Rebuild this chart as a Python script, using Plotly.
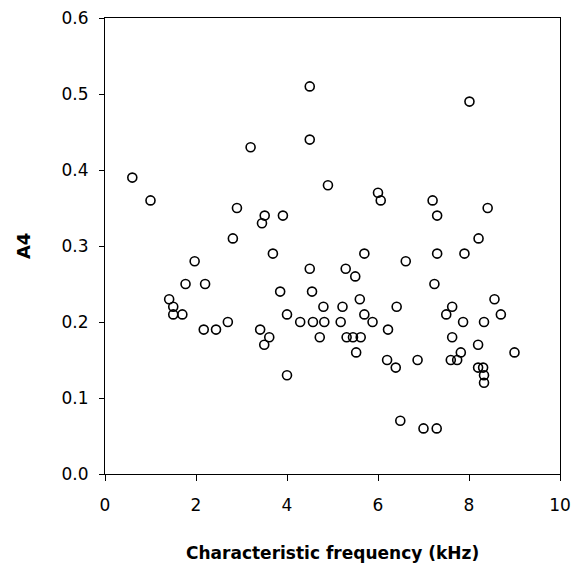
import plotly.graph_objects as go

# characteristic frequency (kHz) and A4 values
cf_khz = [0.60, 1.00, 4.50, 4.50, 3.20, 4.90, 2.90, 3.51, 3.45, 3.91, 2.81, 3.69,
          8.01, 6.00, 6.06, 7.20, 7.30, 8.41, 8.21,
          1.97, 1.77, 2.20, 1.41, 1.50, 1.50, 1.70, 2.17, 2.44, 2.70, 3.41, 3.61,
          3.50, 3.85, 4.00, 4.00, 4.50, 4.55, 4.29, 4.57, 4.82, 4.80, 4.72,
          5.22, 5.18, 5.70, 7.30, 7.90, 6.61, 5.29, 5.50, 7.24, 5.60, 5.70, 5.88,
          6.41, 6.22, 5.31, 5.45, 5.62, 5.52, 6.20, 6.39, 6.87, 6.49, 7.00, 7.29,
          7.63, 7.50, 7.87, 7.63, 7.82, 7.60, 7.74, 8.56, 8.70, 8.33, 8.20, 8.20,
          8.31, 8.33, 8.33, 9.00]
a4 = [0.39, 0.36, 0.51, 0.44, 0.43, 0.38, 0.35, 0.34, 0.33, 0.34, 0.31, 0.29,
      0.49, 0.37, 0.36, 0.36, 0.34, 0.35, 0.31,
      0.28, 0.25, 0.25, 0.23, 0.22, 0.21, 0.21, 0.19, 0.19, 0.20, 0.19, 0.18,
      0.17, 0.24, 0.21, 0.13, 0.27, 0.24, 0.20, 0.20, 0.20, 0.22, 0.18,
      0.22, 0.20, 0.29, 0.29, 0.29, 0.28, 0.27, 0.26, 0.25, 0.23, 0.21, 0.20,
      0.22, 0.19, 0.18, 0.18, 0.18, 0.16, 0.15, 0.14, 0.15, 0.07, 0.06, 0.06,
      0.22, 0.21, 0.20, 0.18, 0.16, 0.15, 0.15, 0.23, 0.21, 0.20, 0.17, 0.14,
      0.14, 0.13, 0.12, 0.16]

x_ticks = [0, 2, 4, 6, 8, 10]
y_ticks = [0.0, 0.1, 0.2, 0.3, 0.4, 0.5, 0.6]

fig = go.Figure()
fig.add_trace(go.Scatter(
    x=cf_khz, y=a4, mode='markers',
    marker=dict(symbol='circle-open', size=9, color='black', line=dict(width=1.6))
))

font_family = "DejaVu Sans, Liberation Sans, Arial, sans-serif"
axis_font = dict(family=font_family, size=17, color='black')

fig.update_xaxes(range=[0, 10], tickvals=x_ticks, ticktext=[str(t) for t in x_ticks],
                 showgrid=False, zeroline=False, showline=True, linecolor='black', linewidth=1.2,
                 mirror=True, ticks='outside', ticklen=6, tickcolor='black', tickwidth=1.2,
                 tickfont=axis_font, ticklabelstandoff=9, automargin=False,
                 ticklabeloverflow='allow')
fig.update_yaxes(range=[0, 0.6], tickvals=y_ticks, ticktext=[f"{t:.1f}" for t in y_ticks],
                 showgrid=False, zeroline=False, showline=True, linecolor='black', linewidth=1.2,
                 mirror=True, ticks='outside', ticklen=5, tickcolor='black', tickwidth=1.2,
                 tickfont=axis_font, ticklabelstandoff=7, automargin=False,
                 ticklabeloverflow='allow')

fig.add_annotation(text="<b>Characteristic frequency (kHz)</b>", xref='paper', yref='paper',
                   x=0.5, y=-0.173, xanchor='center', yanchor='middle', showarrow=False,
                   font=dict(family=font_family, size=17, color='black'))
fig.add_annotation(text="<b>A4</b>", xref='paper', yref='paper', x=-0.18, y=0.5,
                   xanchor='center', yanchor='middle', textangle=-90, showarrow=False,
                   font=dict(family=font_family, size=18, color='black'))

# the page body adds an 8px margin, so the figure is a bit smaller than the window
fig.update_layout(width=572, height=556, margin=dict(l=97, r=20, t=10, b=90),
                  plot_bgcolor='white', paper_bgcolor='white', showlegend=False)

fig.write_html("out.html")
